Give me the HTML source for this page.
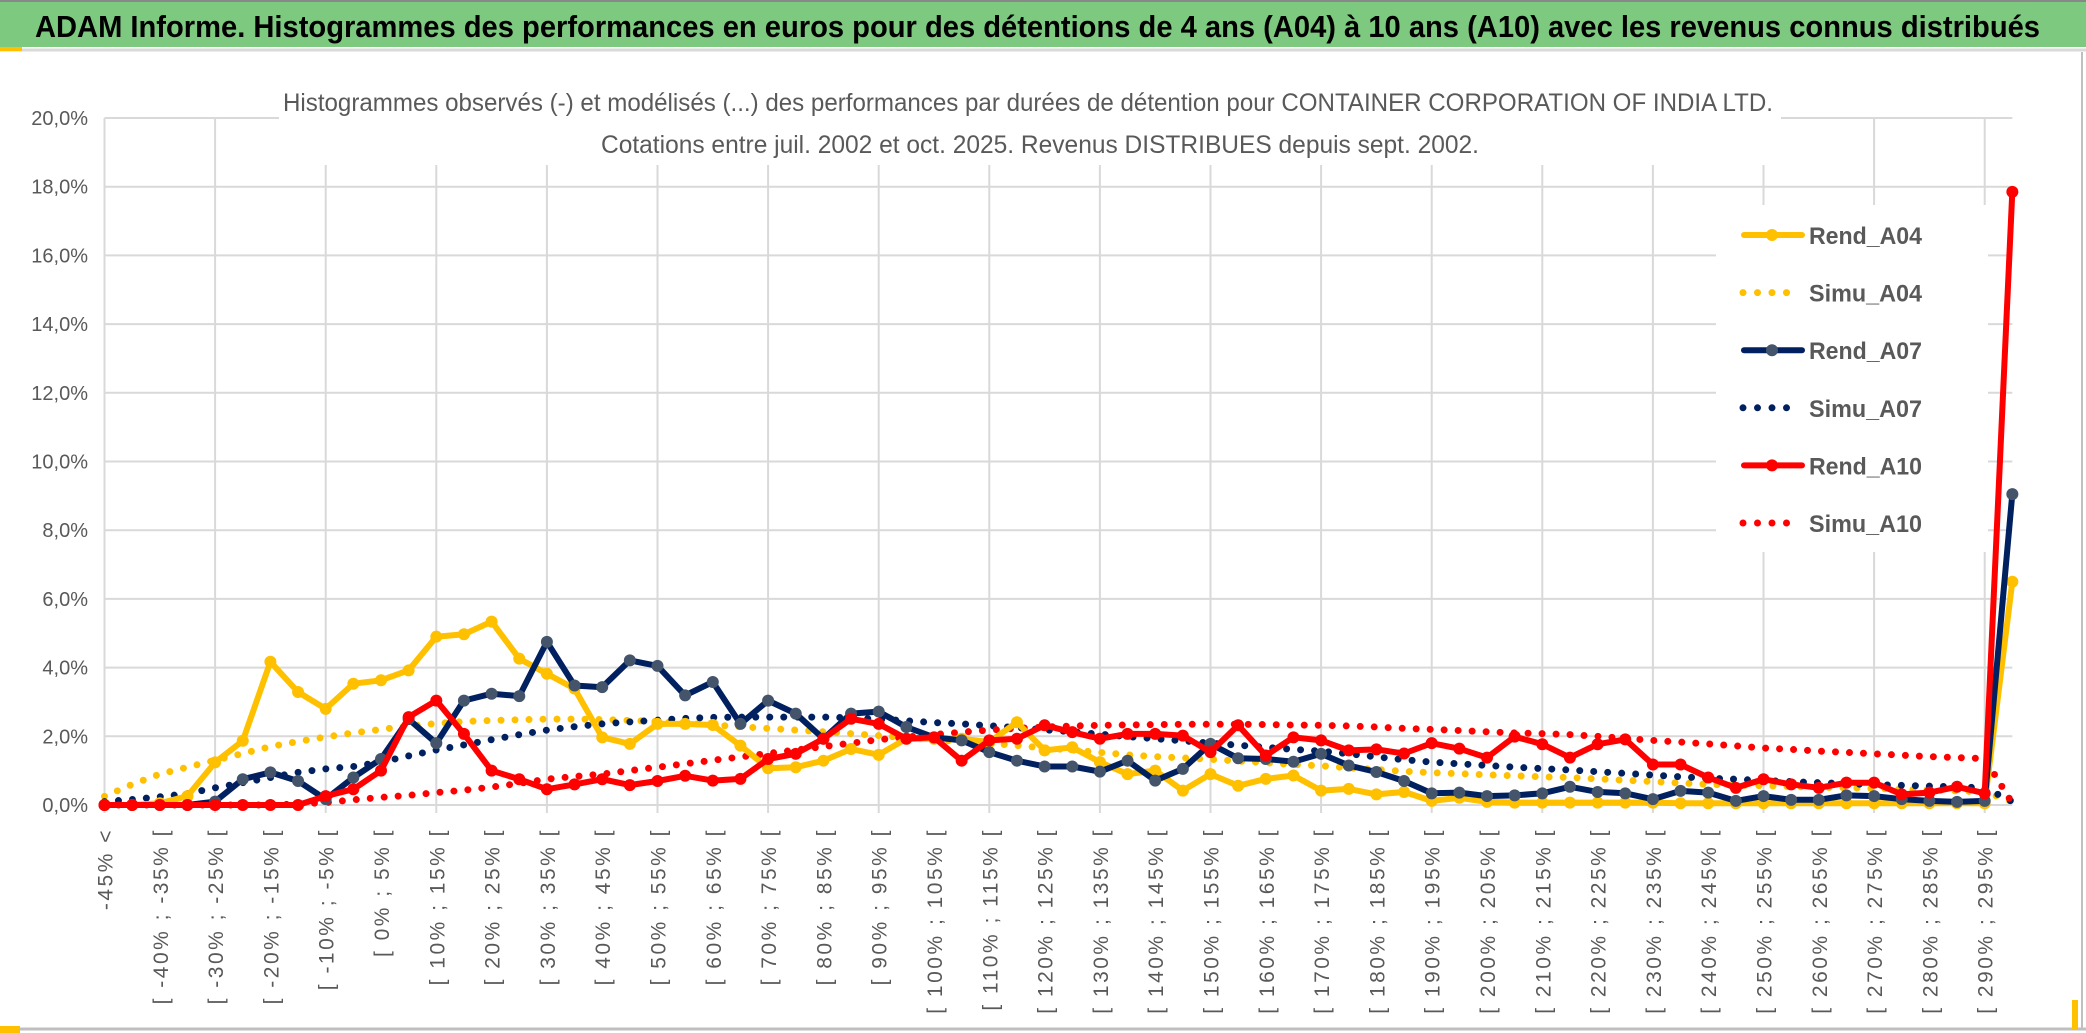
<!DOCTYPE html>
<html><head><meta charset="utf-8"><style>
html,body{margin:0;padding:0;background:#fff;}
svg{display:block;}
text{font-family:"Liberation Sans",sans-serif;}
</style></head><body>
<svg id="chart" width="2086" height="1033" viewBox="0 0 2086 1033" xmlns="http://www.w3.org/2000/svg">
<rect x="0" y="0" width="2086" height="1033" fill="#fff"/>
<rect x="0" y="2" width="2086" height="45" fill="#7DC97F"/>
<line x1="0" y1="1" x2="2086" y2="1" stroke="#888" stroke-width="2"/>
<line x1="0" y1="50" x2="2086" y2="50" stroke="#d9d9d9" stroke-width="3"/>
<rect x="0" y="47" width="22" height="4" fill="#FFC000"/>
<text x="35" y="37" font-size="31" font-weight="bold" fill="#000" textLength="2005" lengthAdjust="spacingAndGlyphs">ADAM Informe. Histogrammes des performances en euros pour des détentions de 4 ans (A04) à 10 ans (A10) avec les revenus connus distribués</text>
<line x1="2082" y1="52" x2="2082" y2="1030" stroke="#bfbfbf" stroke-width="2"/>
<line x1="0" y1="1029" x2="2086" y2="1029" stroke="#bfbfbf" stroke-width="3"/>
<rect x="0" y="1026" width="20" height="7" fill="#FFC000"/>
<rect x="2072" y="1000" width="6" height="30" fill="#FFC000"/>
<g id="grid"></g>
<g id="yaxis"></g>
<g id="xaxis"></g>
<rect x="279" y="80" width="1502" height="85" fill="#fff"/>
<text x="283" y="111" font-size="25" fill="#595959" textLength="1490" lengthAdjust="spacingAndGlyphs">Histogrammes observés (-) et modélisés (...) des performances par durées de détention pour CONTAINER CORPORATION OF INDIA LTD.</text>
<text x="601" y="153" font-size="25" fill="#595959" textLength="878" lengthAdjust="spacingAndGlyphs">Cotations entre juil. 2002 et oct. 2025. Revenus DISTRIBUES depuis sept. 2002.</text>
<rect x="1716" y="205" width="272" height="347" fill="#fff"/>
<g id="series"></g>
<g id="legend"></g>
</svg>
<script>
const rendA04 = [0,0,0.05,0.26,1.24,1.87,4.17,3.29,2.8,3.53,3.63,3.92,4.9,4.97,5.34,4.26,3.82,3.39,1.97,1.78,2.36,2.36,2.33,
1.73,1.07,1.1,1.29,1.63,1.46,1.93,1.93,1.93,1.83,2.41,1.59,1.68,1.25,0.9,1.0,0.42,0.9,0.56,0.76,0.86,0.42,0.47,
0.31,0.38,0.12,0.21,0.09,0.07,0.07,0.07,0.07,0.07,0.07,0.05,0.05,0.05,0.05,0.05,0.05,0.05,0.05,0.05,0.05,0.05,0.05,6.5];
const rendA07 = [0,0,0,0,0.1,0.75,0.95,0.7,0.17,0.8,1.34,2.5,1.8,3.04,3.24,3.17,4.75,3.48,3.43,4.21,4.05,3.19,3.58,
2.36,3.04,2.66,1.93,2.66,2.72,2.27,1.97,1.88,1.54,1.29,1.12,1.12,0.97,1.29,0.71,1.05,1.78,1.36,1.34,1.26,1.49,1.15,
0.96,0.7,0.34,0.36,0.26,0.28,0.34,0.53,0.38,0.34,0.17,0.41,0.36,0.12,0.26,0.15,0.15,0.28,0.26,0.17,0.12,0.09,0.12,9.05];
const rendA10 = [0,0,0,0,0,0,0,0,0.26,0.46,1.0,2.56,3.04,2.07,1.0,0.75,0.46,0.6,0.75,0.58,0.7,0.85,0.71,
0.76,1.34,1.49,1.93,2.51,2.36,1.93,1.97,1.29,1.88,1.93,2.32,2.12,1.93,2.07,2.07,2.02,1.54,2.32,1.44,1.97,1.88,1.59,
1.62,1.5,1.8,1.64,1.38,1.99,1.77,1.38,1.77,1.91,1.18,1.18,0.8,0.5,0.75,0.6,0.5,0.65,0.65,0.31,0.36,0.53,0.34,17.85];
const simuA04 = [0.25,0.6,0.9,1.1,1.3,1.5,1.7,1.85,1.98,2.1,2.2,2.3,2.37,2.43,2.46,2.48,2.5,2.5,2.49,2.46,2.43,2.38,2.33,2.28,2.23,2.18,2.13,2.08,2.02,1.96,1.9,1.85,1.8,1.73,1.66,1.6,1.53,1.46,1.41,1.37,1.33,1.28,1.23,1.18,1.14,1.08,1.03,0.98,0.94,0.91,0.88,0.85,0.82,0.8,0.76,0.72,0.68,0.64,0.6,0.58,0.56,0.54,0.52,0.5,0.48,0.46,0.44,0.41,0.38,0.1];
const simuA07 = [0.1,0.16,0.24,0.33,0.5,0.65,0.8,0.95,1.05,1.12,1.25,1.43,1.6,1.75,1.9,2.05,2.18,2.28,2.36,2.42,2.47,2.52,2.55,2.56,2.56,2.56,2.56,2.54,2.5,2.45,2.4,2.36,2.31,2.25,2.19,2.13,2.06,1.99,1.93,1.87,1.8,1.74,1.68,1.62,1.57,1.49,1.4,1.32,1.25,1.2,1.15,1.1,1.06,1.02,0.97,0.92,0.87,0.82,0.78,0.75,0.71,0.68,0.65,0.62,0.59,0.57,0.55,0.53,0.5,0.1];
const simuA10 = [0,0,0,0,0,0,0,0.03,0.07,0.15,0.22,0.28,0.36,0.43,0.52,0.63,0.75,0.83,0.9,1.0,1.1,1.2,1.3,1.4,1.5,1.6,1.7,1.8,1.9,1.98,2.05,2.12,2.18,2.23,2.27,2.3,2.32,2.33,2.34,2.35,2.35,2.35,2.34,2.33,2.32,2.3,2.27,2.23,2.2,2.17,2.13,2.1,2.08,2.05,2.0,1.94,1.88,1.83,1.78,1.72,1.66,1.62,1.57,1.53,1.49,1.45,1.41,1.38,1.35,0.05];
const yTicks = [0,2,4,6,8,10,12,14,16,18,20];
const categories = ["-45% <"];
for (let a = -45; a < 300; a += 5) categories.push("[ " + a + "% ; " + (a + 5) + "% [");

const NS = "http://www.w3.org/2000/svg";
const X0 = 104.5, DX = 27.65, Y0 = 805, YTOP = 118;
const xs = i => X0 + i * DX;
const ys = v => Y0 - (v / 20) * (Y0 - YTOP);
function mk(tag, attrs, parent) {
  const e = document.createElementNS(NS, tag);
  for (const k in attrs) e.setAttribute(k, attrs[k]);
  parent.appendChild(e);
  return e;
}
const grid = document.getElementById('grid');
const yaxis = document.getElementById('yaxis');
const xaxis = document.getElementById('xaxis');
const xEnd = xs(categories.length - 1);
yTicks.forEach(t => {
  const l = mk('line', {x1: X0, x2: xEnd, y1: ys(t), y2: ys(t), stroke: '#d9d9d9', 'stroke-width': 2}, grid);
  
  
  const tx = mk('text', {x: 88, y: ys(t) + 7, 'font-size': 20, fill: '#595959', 'text-anchor': 'end'}, yaxis);
  tx.textContent = t.toFixed(1).replace('.', ',') + '%';
  
  
});
categories.forEach((c, i) => {
  if (i % 4 === 0) {
    const g = mk('line', {x1: xs(i), x2: xs(i), y1: YTOP, y2: Y0 + 8, stroke: '#d9d9d9', 'stroke-width': 2}, grid);
    
    
  }
  if (i % 2 === 0) {
    const x = xs(i) + 8, y = 828;
    const t = mk('text', {x: x, y: y, 'font-size': 21, fill: '#595959', 'text-anchor': 'end', 'letter-spacing': 2.5, transform: 'rotate(-90 ' + x + ' ' + y + ')'}, xaxis);
    t.textContent = c;
    
    
  }
});
const series = document.getElementById('series');
function pts(arr) { return arr.map((v, i) => xs(i).toFixed(1) + ',' + ys(v).toFixed(1)).join(' '); }
function dotted(arr, color, name) {
  const p = mk('polyline', {points: pts(arr), fill: 'none', stroke: color, 'stroke-width': 7, 'stroke-linecap': 'round', 'stroke-dasharray': '0 14'}, series);
  
  
}
function solid(arr, color, mcolor, name) {
  const g = mk('g', {}, series);
  
  
  mk('polyline', {points: pts(arr), fill: 'none', stroke: color, 'stroke-width': 6, 'stroke-linejoin': 'round'}, g);
  arr.forEach((v, i) => {
    const m = mk('circle', {cx: xs(i), cy: ys(v), r: 6, fill: mcolor}, g);
    
    
  });
}
dotted(simuA04, '#FFC000', 'simu-a04-line');
dotted(simuA07, '#002060', 'simu-a07-line');
dotted(simuA10, '#FF0000', 'simu-a10-line');
solid(rendA04, '#FFC000', '#FFC000', 'rend-a04-line');
solid(rendA07, '#002060', '#44546A', 'rend-a07-line');
solid(rendA10, '#FF0000', '#FF0000', 'rend-a10-line');

const legendNames = ['Rend_A04','Simu_A04','Rend_A07','Simu_A07','Rend_A10','Simu_A10'];
const legendColors = ['#FFC000','#FFC000','#002060','#002060','#FF0000','#FF0000'];
const legend = document.getElementById('legend');
legendNames.forEach((n, k) => {
  const y = 235 + k * 57.6;
  const g = mk('g', {}, legend);
  
  
  if (n.startsWith('Rend')) {
    mk('line', {x1: 1744, x2: 1802, y1: y, y2: y, stroke: legendColors[k], 'stroke-width': 6, 'stroke-linecap': 'round'}, g);
    mk('circle', {cx: 1772, cy: y, r: 6, fill: k === 2 ? '#44546A' : legendColors[k]}, g);
  } else {
    mk('line', {x1: 1743, x2: 1800, y1: y, y2: y, stroke: legendColors[k], 'stroke-width': 7, 'stroke-linecap': 'round', 'stroke-dasharray': '0 14.5'}, g);
  }
  const t = mk('text', {x: 1809, y: y + 9, 'font-size': 24, 'font-weight': 'bold', fill: '#595959', textLength: 113, lengthAdjust: 'spacingAndGlyphs'}, g);
  t.textContent = n;
});
</script>
</body></html>
